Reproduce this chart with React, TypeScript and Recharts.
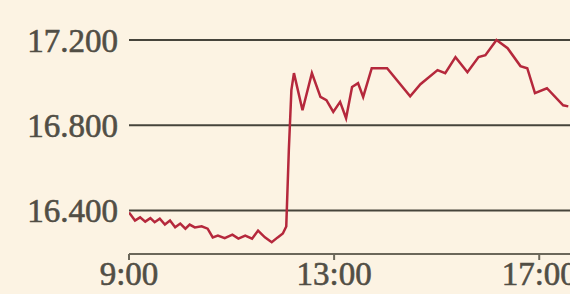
import React from 'react';
import { LineChart, Line, XAxis, YAxis, ReferenceLine } from 'recharts';

// intraday index level
const times = [
  '9:00', '9:07', '9:13', '9:19', '9:25', '9:30', '9:36', '9:42', '9:48', '9:54',
  '10:00', '10:06', '10:11', '10:17', '10:25', '10:32', '10:38', '10:44', '10:52', '11:01',
  '11:08', '11:16', '11:24', '11:31', '11:39', '11:47', '11:54', '12:00', '12:04', '12:07',
  '12:10', '12:13', '12:23', '12:34', '12:44', '12:51', '12:59', '13:07', '13:14', '13:21',
  '13:28', '13:34', '13:44', '14:02', '14:29', '14:41', '15:01', '15:10', '15:22', '15:36',
  '15:49', '15:57', '16:10', '16:23', '16:38', '16:46', '16:55', '17:09', '17:28', '17:34',
];
const levels = [
  16391, 16353, 16368, 16348, 16364, 16345, 16362, 16334, 16353, 16321,
  16339, 16315, 16334, 16321, 16326, 16315, 16274, 16282, 16270, 16287,
  16268, 16282, 16268, 16306, 16274, 16251, 16274, 16292, 16325, 16682,
  16965, 17045, 16871, 17045, 16933, 16918, 16863, 16910, 16833, 16980,
  16998, 16933, 17068, 17068, 16936, 16993, 17059, 17045, 17120, 17049,
  17120, 17129, 17200, 17162, 17078, 17068, 16951, 16974, 16894, 16889,
];
const yTicks = [16400, 16800, 17200];
const xTicks = ['9:00', '13:00', '17:00'];

const toMinutes = (t: string) => {
  const [h, m] = t.split(':').map(Number);
  return h * 60 + m;
};

const data = times.map((t, i) => ({ t: toMinutes(t), v: levels[i] }));

const fontStyle = {
  fontFamily: '"Liberation Serif", serif',
  fontSize: 33,
  fill: '#514e45',
  stroke: '#514e45',
  strokeWidth: 0.6,
};

const App = () => {
  return (
    <div style={{ position: 'absolute', left: 0, top: 0, width: 570, height: 294, background: '#fcf3e3', overflow: 'hidden' }}>
      <LineChart width={570} height={294} data={data} margin={{ top: 6, right: 0, bottom: 0, left: 0 }}>
        <XAxis
          dataKey="t"
          type="number"
          domain={[540, 1056]}
          ticks={xTicks.map(toMinutes)}
          interval={0}
          tickFormatter={(m: number) => `${Math.floor(m / 60)}:00`}
          height={40}
          stroke="#6b675a"
          strokeWidth={2}
          tickSize={6}
          tickMargin={2}
          tick={fontStyle}
          allowDataOverflow
        />
        <YAxis
          type="number"
          domain={[16196, 17360]}
          ticks={yTicks}
          interval={0}
          tickFormatter={(v: number) => v.toLocaleString('de-DE')}
          width={129}
          axisLine={false}
          tickLine={false}
          tickSize={0}
          tickMargin={11}
          tick={fontStyle}
          allowDataOverflow
        />
        {yTicks.map((y) => (
          <ReferenceLine key={y} y={y} stroke="#46443b" strokeWidth={2} />
        ))}
        <Line
          type="linear"
          dataKey="v"
          stroke="#b5283c"
          strokeWidth={2.5}
          dot={false}
          isAnimationActive={false}
        />
      </LineChart>
    </div>
  );
};

export default App;
